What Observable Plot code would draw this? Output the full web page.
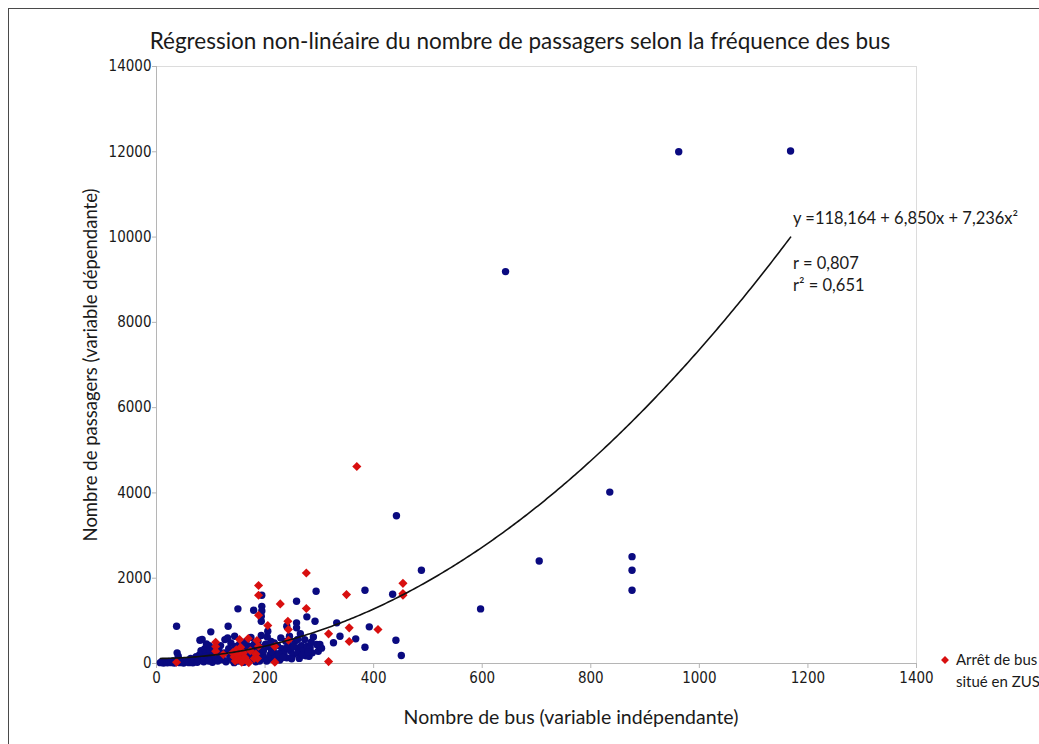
<!DOCTYPE html>
<html>
<head>
<meta charset="utf-8">
<script src="https://cdn.jsdelivr.net/npm/d3@7"></script>
<script src="https://cdn.jsdelivr.net/npm/@observablehq/plot@0.6"></script>
<style>
  html, body { margin: 0; padding: 0; background: #ffffff; }
  #chart { position: relative; width: 1039px; height: 744px; overflow: hidden; }
</style>
</head>
<body>
<div id="chart"></div>
<script>
// Arrêts hors ZUS : [nombre de bus, nombre de passagers]
const arretsHorsZus = [
  [7,20],[10,45],[13,10],[17,30],[20,15],[23,50],[27,20],[30,60],[33,10],[37,30],[40,85],[43,20],
  [47,50],[50,10],[53,35],[57,70],[60,20],[63,120],[65,45],[67,15],[70,90],[73,160],[75,30],
  [37,873],[38,250],[40,170],
  [77,60],[79,200],[80,546],[82,300],[84,562],[85,120],[87,40],[89,350],[91,250],[93,180],[95,80],
  [97,420],[99,300],[100,742],[101,150],[103,30],[105,220],
  [110,120],[113,60],[115,300],[119,180],[122,90],[125,250],[128,40],[131,601],[132,873],[133,350],
  [135,150],[137,480],[139,80],[141,260],[143,20],[145,400],
  [147,180],[149,320],[150,1281],[151,60],[153,450],[155,200],[157,100],[159,380],[161,30],[163,280],
  [165,520],[167,150],[169,60],[171,400],[173,240],[175,320],[177,100],[179,1249],[180,450],[181,200],
  [183,40],[185,350],[187,520],[189,150],[191,280],[193,656],[194,1600],[194,1340],[194,1230],
  [193,1110],[193,991],
  [118,420],[126,560],[144,640],[152,110],[158,240],[162,470],[166,330],[170,90],[174,610],[178,200],
  [182,280],[186,430],[190,60],[192,380],[196,180],[112,250],[104,360],[92,460],[88,140],[96,60],
  [197,300],[199,120],[201,450],[203,60],[205,757],[207,391],[209,200],[211,520],[213,100],[215,300],
  [219,160],[223,420],[227,80],[231,350],[235,250],[240,873],[240,367],[240,133],[243,450],[247,300],
  [251,200],[255,520],[258,1459],[258,953],[258,836],[260,562],[260,367],[260,250],[263,120],[267,420],
  [271,300],[275,180],[277,1094],[278,405],[281,171],[283,367],[285,500],[287,250],[292,991],[294,1693],
  [295,445],[298,288],[301,445],
  [204,620],[212,280],[217,480],[225,230],[229,600],[233,140],[238,520],[245,640],[249,110],[253,390],
  [265,700],[269,200],[273,560],[279,270],[289,620],[304,360],
  [326,485],[332,953],[338,640],[367,578],[384,382],[384,1717],[392,859],[435,1624],[441,546],
  [442,3466],[451,187],[488,2186],
  [597,1280],[643,9190],[705,2405],[835,4020],[876,2506],[876,2186],[876,1717],[962,12000],[1168,12020]
];

// Arrêts de bus situés en ZUS : [nombre de bus, nombre de passagers]
const arretsZus = [
  [37,30],[109,500],[109,400],[109,290],[123,211],[140,250],[143,150],[145,60],[147,320],[149,94],
  [150,200],[152,258],[153,562],[155,100],[155,380],[157,30],[160,250],[163,140],[167,60],[169,585],
  [170,16],[173,300],[180,120],[183,220],[185,538],[186,117],[188,1830],[188,1600],[188,1130],[188,405],
  [205,890],[218,400],[218,30],[228,1398],[242,991],[243,796],[243,546],[276,2124],[276,1290],
  [317,695],[317,45],[350,1616],[355,836],[355,515],[369,4620],[408,796],[454,1880],[454,1640],[454,1600]
];

// Ajustement quadratique : constante, terme linéaire et terme quadratique
const coefficients = [118.164, 6.850e-3, 7.236e-3];

const xTicks = [0, 200, 400, 600, 800, 1000, 1200, 1400];
const yTicks = [0, 2000, 4000, 6000, 8000, 10000, 12000, 14000];

const titre = "Régression non-linéaire du nombre de passagers selon la fréquence des bus";
const titreX = "Nombre de bus (variable indépendante)";
const titreY = "Nombre de passagers (variable dépendante)";
const equation = "y =118,164 + 6,850x + 7,236x²";
const correlation = "r = 0,807";
const determination = "r² = 0,651";
const legende = ["Arrêt de bus", "situé en ZUS"];

const bleu = "#0a0a80";
const rouge = "#d80f0f";
const police = "Lato, 'Open Sans', sans-serif";
const policeGraduations = "'Liberation Sans Narrow', 'DejaVu Sans Condensed', sans-serif";

// Courbe de régression tracée sur l'étendue des observations
const tousX = arretsHorsZus.concat(arretsZus).map(d => d[0]);
const [xMin, xMax] = d3.extent(tousX);
const courbe = d3.range(xMin, xMax, 4).concat([xMax]).map(x => ({
  x, y: coefficients[0] + coefficients[1] * x + coefficients[2] * x * x
}));

const W = 1039, H = 744;
const plot = Plot.plot({
  width: W,
  height: H,
  marginLeft: 156,
  marginRight: 123,
  marginTop: 66,
  marginBottom: 81,
  style: { fontFamily: policeGraduations, fontSize: "15px", color: "#222", background: "transparent", overflow: "visible" },
  x: { domain: [0, 1400] },
  y: { domain: [0, 14000] },
  marks: [
    Plot.frame({ stroke: "#dcdcdc" }),
    Plot.axisX({ ticks: xTicks, tickSize: 5, tickPadding: 4, tickFormat: d => String(d), stroke: "#b5b5b5", fill: "#1a1a1a", fontSize: 15, label: null }),
    Plot.axisY({ ticks: yTicks, tickSize: 4, tickPadding: 1, tickFormat: d => String(d), stroke: "#b5b5b5", fill: "#1a1a1a", fontSize: 15, label: null }),
    Plot.ruleX([0], { stroke: "#b5b5b5" }),
    Plot.ruleY([0], { stroke: "#b5b5b5" }),
    Plot.dot(arretsHorsZus, { x: d => d[0], y: d => d[1], r: 3.7, fill: bleu, stroke: "none" }),
    Plot.dot(arretsZus, { x: d => d[0], y: d => d[1], symbol: "diamond2", r: 4.1, fill: rouge, stroke: "none" }),
    Plot.line(courbe, { x: "x", y: "y", stroke: "#111", strokeWidth: 1.6, curve: "linear" })
  ]
});

document.getElementById("chart").appendChild(plot);
const svg = d3.select(plot);

// Cadre du graphique
svg.insert("rect", ":first-child")
  .attr("x", 8.5).attr("y", 8.5).attr("width", W + 20).attr("height", H + 20)
  .attr("fill", "none").attr("stroke", "#4a4a4a").attr("stroke-width", 1);

const ajouterTexte = (txt, x, y, size, anchor = "start", rotate = null) => {
  const t = svg.append("text")
    .attr("x", x).attr("y", y)
    .attr("font-family", police)
    .attr("font-size", size)
    .attr("fill", "#1a1a1a")
    .attr("text-anchor", anchor)
    .attr("dominant-baseline", "middle")
    .text(txt);
  if (rotate !== null) t.attr("transform", `rotate(${rotate},${x},${y})`);
  return t;
};

ajouterTexte(titre, 520, 43, 22.5, "middle");
ajouterTexte(titreX, 571, 719, 19.5, "middle");
ajouterTexte(titreY, 92, 365, 18.5, "middle", -90);
ajouterTexte(equation, 793, 220, 16.5);
ajouterTexte(correlation, 793, 265, 16.5);
ajouterTexte(determination, 793, 287, 16.5);

// Légende de la série ZUS
svg.append("path")
  .attr("d", d3.symbol(d3.symbolDiamond2, 40)())
  .attr("transform", "translate(945,660)")
  .attr("fill", rouge);
ajouterTexte(legende[0], 956, 661, 15);
ajouterTexte(legende[1], 956, 683, 15);
</script>
</body>
</html>
